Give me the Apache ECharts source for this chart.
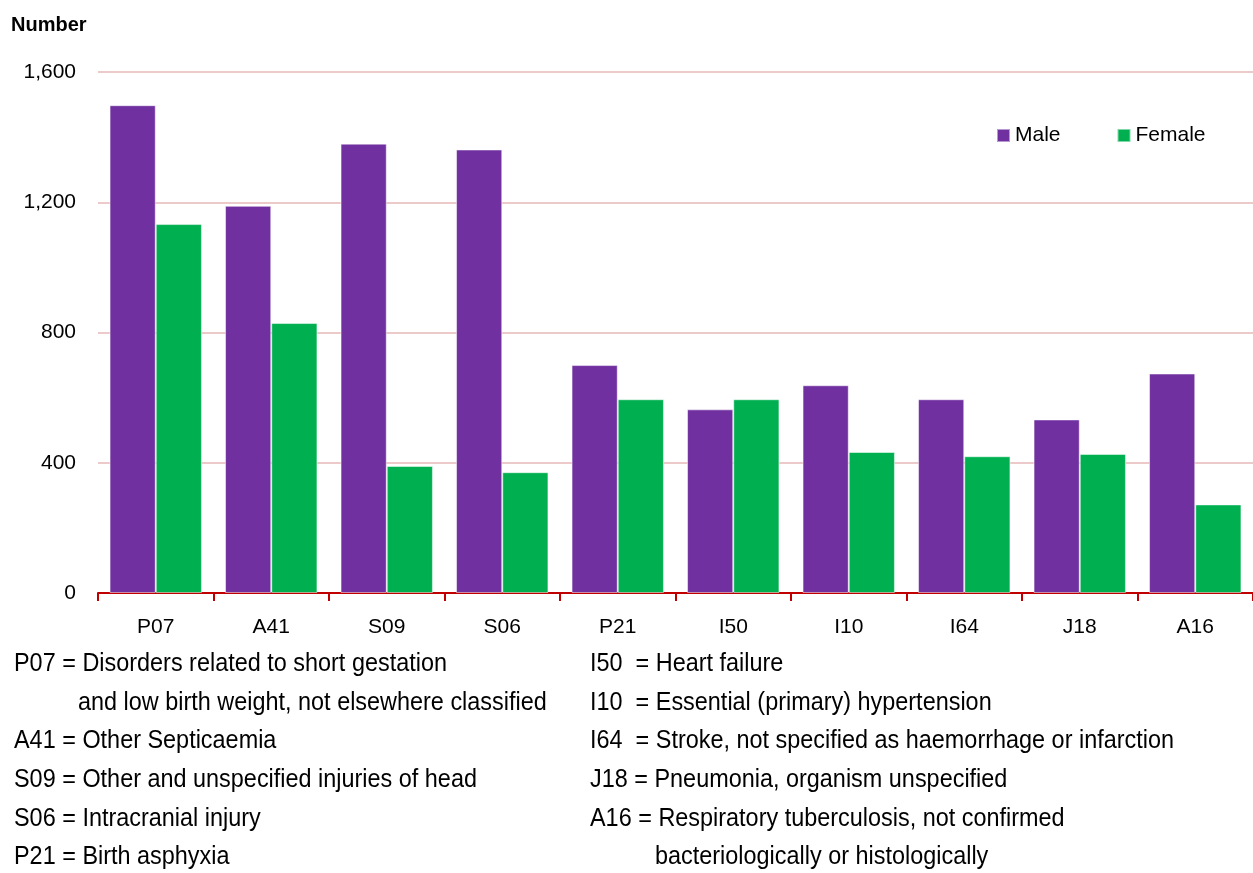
<!DOCTYPE html>
<html lang="en">
  <head>
    <meta charset="UTF-8" />
    <title>Number by cause and sex</title>
    <script src="https://cdn.jsdelivr.net/npm/echarts@6/dist/echarts.min.js"></script>
    <style>
      html, body { margin: 0; padding: 0; background: #fff; }
      #main { width: 1253px; height: 873px; }
    </style>
  </head>
  <body>
    <div id="main"></div>
    <script>
      // data
      const causes = ["P07", "A41", "S09", "S06", "P21", "I50", "I10", "I64", "J18", "A16"];
      const male = [1498, 1189, 1380, 1362, 700, 564, 638, 595, 533, 674];
      const female = [1133, 829, 390, 371, 595, 595, 433, 420, 427, 272];

      // footnotes: first line with code, continuation lines as extra entries
      const notesLeft = [
        ["P07 = Disorders related to short gestation", "and low birth weight, not elsewhere classified"],
        ["A41 = Other Septicaemia"],
        ["S09 = Other and unspecified injuries of head"],
        ["S06 = Intracranial injury"],
        ["P21 = Birth asphyxia"],
      ];
      const notesRight = [
        ["I50  = Heart failure"],
        ["I10  = Essential (primary) hypertension"],
        ["I64  = Stroke, not specified as haemorrhage or infarction"],
        ["J18 = Pneumonia, organism unspecified"],
        ["A16 = Respiratory tuberculosis, not confirmed", "bacteriologically or histologically"],
      ];

      const FONT = "'Liberation Sans', Arial, sans-serif";

      // the original uses a slightly condensed face, so squeeze the text a bit
      const noteText = (notes, x, indentX) => {
        const out = [];
        let row = 0;
        notes.forEach((lines) => {
          lines.forEach((t, j) => {
            out.push({
              type: "text",
              x: j === 0 ? x : indentX,
              y: 664 + row * 38.7,
              scaleX: 0.937,
              style: { text: t, font: "25px " + FONT, fill: "#000", verticalAlign: "middle" },
            });
            row++;
          });
        });
        return out;
      };

      const chart = echarts.init(document.getElementById("main"));
      chart.setOption({
        animation: false,
        textStyle: { fontFamily: FONT },
        title: {
          text: "Number",
          left: 6,
          top: 10,
          textStyle: { fontSize: 20, fontWeight: "bold", color: "#000", fontFamily: FONT },
        },
        grid: { left: 98, right: 0, top: 72, bottom: 280, outerBoundsMode: "none" },
        legend: {
          left: 991,
          top: 120,
          icon: "rect",
          itemWidth: 13,
          itemHeight: 13,
          itemGap: 56,
          textStyle: { fontSize: 21, color: "#000", fontFamily: FONT },
          data: ["Male", "Female"],
        },
        xAxis: {
          type: "category",
          data: causes,
          axisLine: { lineStyle: { color: "#C00000", width: 2 } },
          axisTick: { show: true, length: 8, lineStyle: { color: "#C00000", width: 2 } },
          axisLabel: { fontSize: 21, color: "#000", margin: 24 },
        },
        yAxis: {
          type: "value",
          min: 0,
          max: 1600,
          interval: 400,
          axisLine: { show: false },
          axisTick: { show: false },
          axisLabel: {
            fontSize: 21,
            color: "#000",
            margin: 22,
            formatter: (v) => v.toLocaleString("en-US"),
          },
          splitLine: { lineStyle: { color: "#E6B9B8", width: 1.5 } },
        },
        series: [
          {
            name: "Male",
            type: "bar",
            data: male,
            barGap: 0,
            barCategoryGap: "20%",
            itemStyle: { color: "#7030A0", borderColor: "rgba(255,255,255,0.5)", borderWidth: 1 },
          },
          {
            name: "Female",
            type: "bar",
            data: female,
            itemStyle: { color: "#00B050", borderColor: "rgba(255,255,255,0.5)", borderWidth: 1 },
          },
        ],
        graphic: [...noteText(notesLeft, 14, 78), ...noteText(notesRight, 590, 655)],
      });
    </script>
  </body>
</html>
